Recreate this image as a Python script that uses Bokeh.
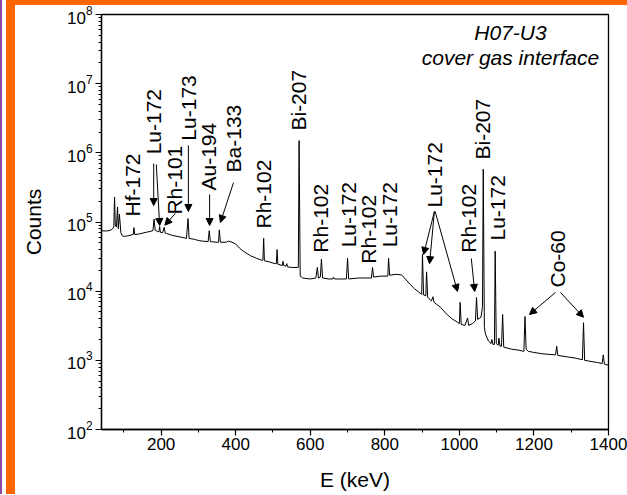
import math
from bokeh.plotting import figure
from bokeh.models import Range1d, SingleIntervalTicker, Arrow, NormalHead, ColumnDataSource
from bokeh.embed import file_html
from bokeh.resources import INLINE
from bokeh.core.properties import value

# ---------------- data ----------------
energy_kev = [40, 50, 60, 66, 70, 73, 75, 77, 80, 83, 85, 88, 92, 96, 100, 110, 120, 125, 127, 129,
              140, 150, 160, 170, 178, 181, 184, 190, 194, 196, 198, 204, 208, 211, 215, 230, 250, 268,
              272, 275, 290, 300, 310, 326, 329, 332, 350, 354, 356, 359, 375, 380, 390, 400, 410,
              420, 430, 440, 455, 470, 473, 475, 477, 490, 505, 509, 511, 513, 525, 527, 529, 535,
              537, 539, 550, 565, 568, 570, 573, 580, 600, 615, 619, 622, 627, 630, 633, 650, 660,
              662, 665, 690, 697, 700, 703, 730, 760, 764, 767, 770, 790, 808, 810, 813, 830, 845,
              855, 868, 880, 890, 899, 901, 904, 910, 912, 915, 925, 929, 932, 950, 965, 980, 995,
              1000, 1002, 1005, 1015, 1022, 1025, 1035, 1043, 1046, 1049, 1058, 1062, 1064, 1067,
              1070, 1078, 1085, 1087, 1090, 1094, 1096, 1099, 1104, 1106, 1109, 1113, 1116, 1119,
              1140, 1160, 1173, 1176, 1179, 1185, 1200, 1220, 1240, 1258, 1261, 1264, 1290, 1310,
              1330, 1333, 1336, 1350, 1370, 1383, 1386, 1389, 1400]
counts = [7.5e4, 7.4e4, 7.5e4, 7.7e4, 8.0e4, 8.5e4, 2.3e5, 9.0e4, 8.5e4, 1.65e5, 8.0e4, 1.3e5, 7.0e4,
          6.3e4, 6.2e4, 6.3e4, 6.5e4, 6.6e4, 8.3e4, 6.6e4,
          6.7e4, 6.9e4, 7.1e4, 7.3e4, 7.5e4, 1.1e5, 7.6e4, 7.3e4, 7.2e4, 8.6e4, 7.1e4, 7.0e4, 8.4e4,
          6.9e4, 6.8e4, 6.4e4, 6.1e4, 5.8e4,
          1.12e5, 5.8e4, 5.6e4, 5.4e4, 5.3e4, 5.2e4, 7.5e4, 5.2e4, 5.1e4, 5.1e4, 7.7e4, 5.1e4, 5.1e4,
          5.3e4, 5.1e4, 4.8e4, 4.2e4,
          3.8e4, 3.5e4, 3.25e4, 3.0e4, 2.8e4, 2.8e4, 5.8e4, 2.75e4, 2.65e4, 2.5e4, 2.5e4, 4.0e4, 2.45e4,
          2.35e4, 2.7e4, 2.35e4, 2.3e4,
          2.5e4, 2.25e4, 2.2e4, 2.2e4, 2.2e4, 1.5e6, 1.65e4, 1.55e4, 1.5e4, 1.55e4, 2.2e4, 1.55e4, 1.6e4,
          2.9e4, 1.55e4, 1.5e4, 1.5e4,
          1.6e4, 1.5e4, 1.5e4, 1.5e4, 3.0e4, 1.5e4, 1.55e4, 1.55e4, 1.55e4, 2.2e4, 1.6e4, 1.65e4, 1.65e4,
          3.0e4, 1.7e4, 1.75e4, 1.72e4,
          1.5e4, 1.25e4, 1.08e4, 9.8e3, 9.0e3, 3.4e4, 8.8e3, 8.6e3, 1.9e4, 8.2e3, 7.2e3, 8.3e3, 6.9e3,
          5.8e3, 4.7e3, 4.0e3, 3.55e3,
          3.4e3, 6.9e3, 3.3e3, 3.2e3, 4.1e3, 3.2e3, 3.4e3, 3.7e3, 8.1e3, 3.9e3, 4.2e3, 6.0e3, 5.8e5, 3.0e3,
          2.4e3, 1.9e3, 1.75e3, 2.0e3, 1.7e3, 1.7e3, 3.8e4, 1.75e3, 1.65e3, 2.1e3, 1.6e3, 1.6e3, 4.6e3,
          1.55e3,
          1.45e3, 1.4e3, 1.35e3, 4.3e3, 1.45e3, 1.35e3, 1.3e3, 1.25e3, 1.22e3, 1.2e3, 1.6e3, 1.18e3,
          1.12e3, 1.08e3,
          1.02e3, 3.5e3, 1.0e3, 9.7e2, 9.3e2, 9.0e2, 1.2e3, 8.8e2, 8.5e2]

# peak labels (text, energy of label, counts at label foot)
label_text = ["Hf-172", "Lu-172", "Rh-101", "Lu-173", "Au-194", "Ba-133", "Rh-102", "Bi-207",
              "Rh-102", "Lu-172", "Rh-102", "Lu-172", "Lu-172", "Rh-102", "Bi-207", "Lu-172", "Co-60"]
label_energy = [123, 180, 236, 273, 327, 394, 475, 568, 627, 703, 756, 813, 933, 1024, 1062, 1102, 1263]
label_counts = [1.2e5, 9.5e5, 1.28e5, 1.5e6, 2.85e5, 5.2e5, 8.05e4, 2.1e6, 3.6e4, 4.3e4, 2.5e4, 4.3e4,
                1.62e5, 3.6e4, 8.0e5, 5.4e4, 1.13e4]

# arrows from labels to peaks (energy / counts of start and end)
arrow_e0 = [180, 187, 238, 273, 330, 394, 933, 933, 935, 1032, 1258, 1271]
arrow_c0 = [7.0e5, 6.8e5, 1.33e5, 1.28e6, 2.5e5, 3.7e5, 1.42e5, 1.42e5, 1.42e5, 2.97e4, 9.6e3, 9.6e3]
arrow_e1 = [180, 196, 210, 273, 330, 359, 904, 920, 995, 1041, 1188, 1333]
arrow_c1 = [1.73e5, 8.9e4, 9.0e4, 1.42e5, 8.9e4, 9.85e4, 3.4e4, 2.5e4, 9.9e3, 9.9e3, 4.6e3, 4.2e3]

title_lines = ["H07-U3", "cover gas interface"]
title_energy = [1137, 1137]
title_counts = [5.5e7, 2.4e7]

x_interval = 200
x_limits = (40, 1400)
y_limits = (1e2, 1e8)

FONT = "Liberation Sans"

# ---------------- figure ----------------
p = figure(width=621, height=494, y_axis_type="log",
           x_range=Range1d(*x_limits), y_range=Range1d(*y_limits),
           output_backend="svg", toolbar_location=None,
           min_border_left=86, min_border_right=28, min_border_top=9, min_border_bottom=70)
p.styles = {"margin-left": "6px",
            "border-top": "5px solid #FF6600", "border-left": "9px solid #FF6600",
            "box-shadow": "-4px 0 0 0 #FFFFFF, -6px 0 0 0 #8E4A9E"}

p.grid.visible = False
p.outline_line_color = "black"
p.outline_line_width = 1.3
p.outline_line_alpha = 1.0
p.background_fill_color = "white"
p.border_fill_color = "white"

p.xaxis.ticker = SingleIntervalTicker(interval=x_interval, num_minor_ticks=2)
for ax in (p.xaxis[0], p.yaxis[0]):
    ax.axis_line_width = 1.3
    ax.axis_line_color = "black"
    ax.major_tick_line_color = "black"
    ax.minor_tick_line_color = "black"
    ax.major_tick_line_width = 1.2
    ax.minor_tick_line_width = 1.0
    ax.major_tick_in = 0
    ax.major_tick_out = 6
    ax.minor_tick_in = 0
    ax.minor_tick_out = 3
    ax.major_label_text_font = FONT
    ax.major_label_text_font_size = "17px"
    ax.major_label_text_color = "black"
    ax.axis_label_text_font = FONT
    ax.axis_label_text_font_size = "21px"
    ax.axis_label_text_font_style = "normal"
    ax.axis_label_text_color = "black"

p.xaxis.major_label_standoff = 2
p.yaxis.major_label_standoff = 3
p.xaxis.axis_label = "E (keV)"
p.yaxis.axis_label = "Counts"
p.xaxis.axis_label_standoff = 15
p.yaxis.axis_label_standoff = 19

# spectrum
p.line(energy_kev, counts, line_color="black", line_width=1)

# arrows
asrc = ColumnDataSource(dict(x0=arrow_e0, y0=arrow_c0, x1=arrow_e1, y1=arrow_c1))
p.add_layout(Arrow(end=NormalHead(size=7, fill_color="black", line_color="black", line_width=1),
                   x_start="x0", y_start="y0", x_end="x1", y_end="y1",
                   line_color="black", line_width=1, source=asrc))

# rotated labels
lsrc = ColumnDataSource(dict(x=label_energy, y=label_counts, t=label_text))
p.text(x="x", y="y", text="t", source=lsrc, angle=math.pi / 2,
       text_align="left", text_baseline="middle",
       text_font=value(FONT), text_font_size="21px", text_color="black")

# title
tsrc = ColumnDataSource(dict(x=title_energy, y=title_counts, t=title_lines))
p.text(x="x", y="y", text="t", source=tsrc, text_align="center", text_baseline="middle",
       text_font=value(FONT), text_font_size="21px", text_font_style="italic", text_color="black")

open("out.html", "w").write(file_html(p, INLINE))
